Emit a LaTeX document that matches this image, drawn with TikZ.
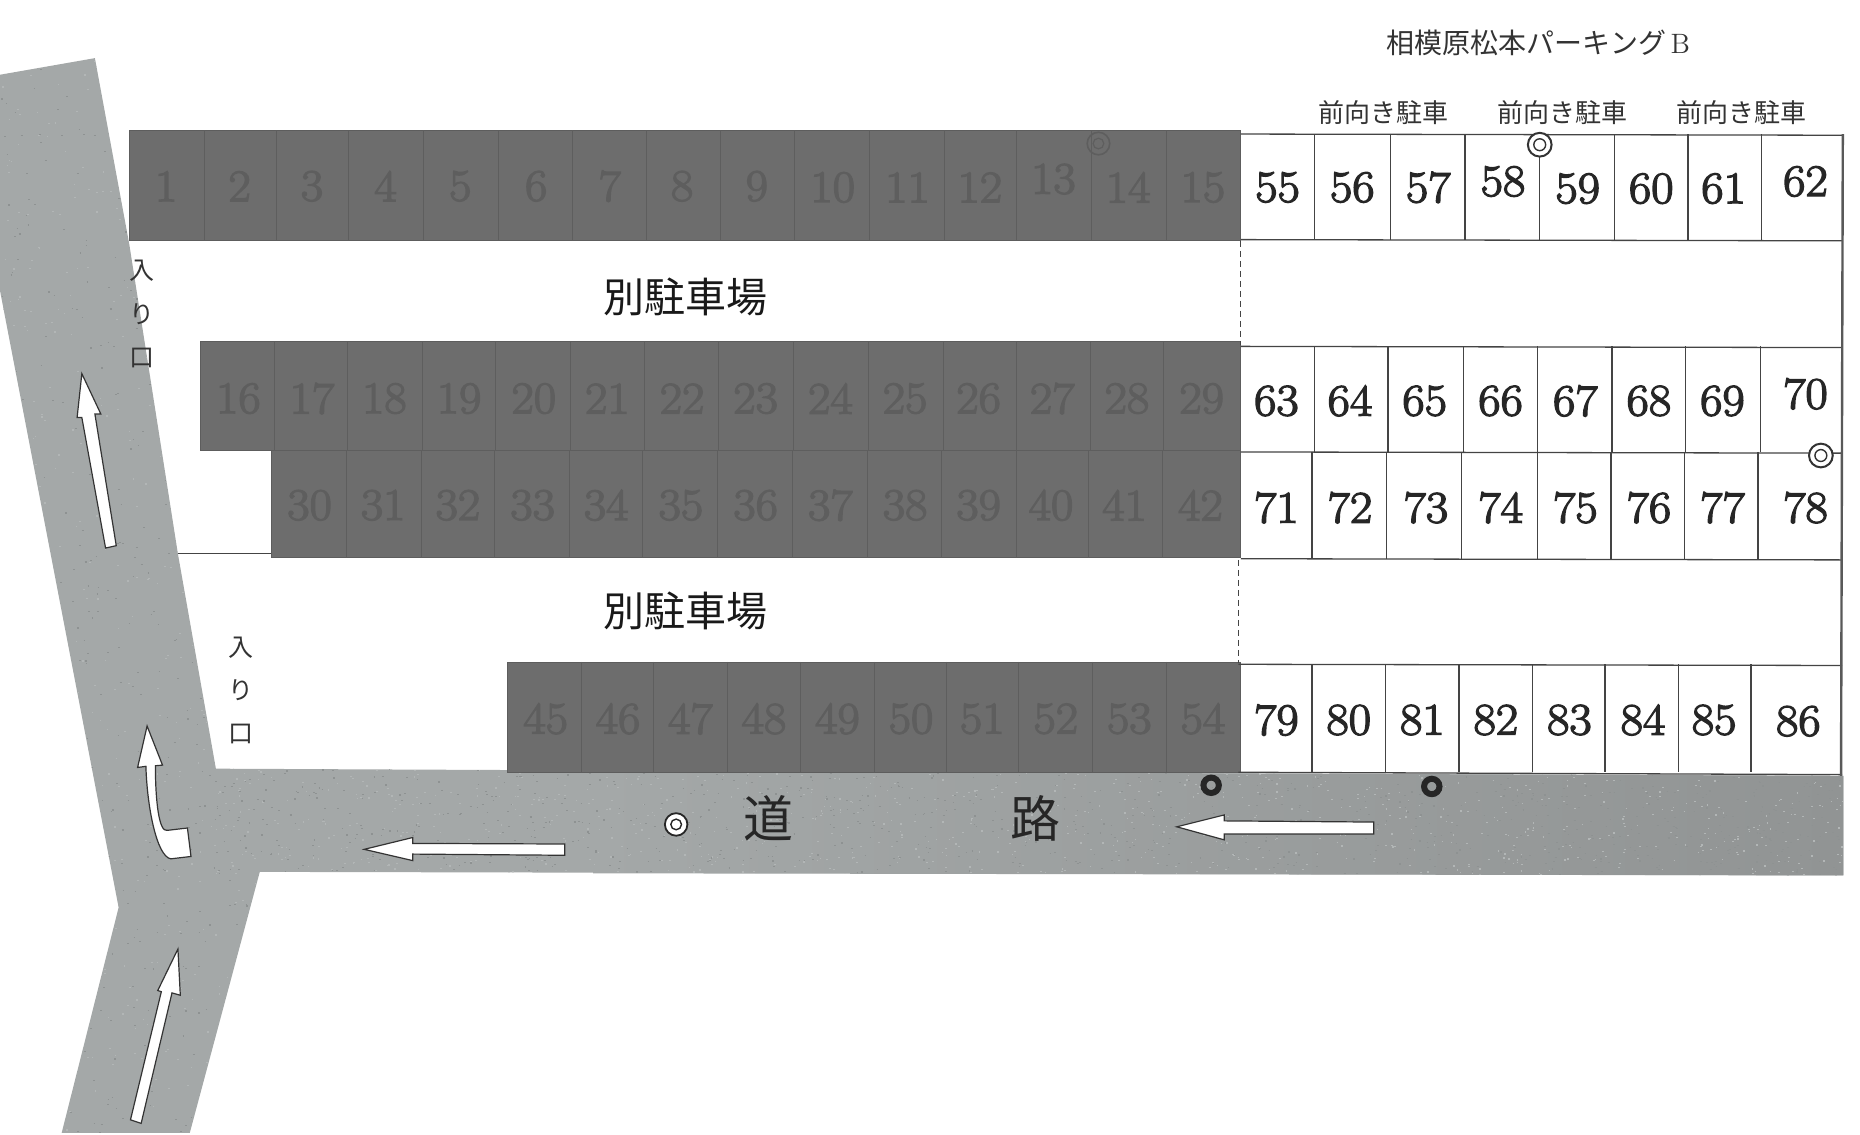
\documentclass[tikz,border=0pt]{standalone}
\usepackage{fontspec}
\newfontfamily\cjk{Noto Sans CJK JP}
\newfontfamily\numfont{Latin Modern Roman}[RawFeature={embolden=3;extend=1.08}]
\definecolor{roadc}{HTML}{A4A8A8}
\definecolor{roadd}{HTML}{919494}
\definecolor{speckd}{HTML}{8E9292}
\definecolor{speckl}{HTML}{B2B6B6}
\definecolor{darkc}{HTML}{6D6D6D}
\definecolor{darkn}{HTML}{5E5E5E}
\definecolor{linec}{HTML}{444444}
\tikzset{
  road/.style={fill=roadc,draw=none},
  darkrow/.style={fill=darkc,draw=darkc!85!black,line width=0.4pt},
  darkline/.style={draw=darkn,line width=0.5pt},
  cellline/.style={draw=linec,line width=0.65pt},
  num/.style={font=\numfont\fontsize{22.5}{22.5}\selectfont,text=black!85,inner sep=0pt},
  dnum/.style={font=\numfont\fontsize{22.5}{22.5}\selectfont,text=darkn,inner sep=0pt},
  flow/.style={fill=white,draw=black!80,line width=0.6pt,line join=miter},
  mincho/.style={font=\cjk\fontsize{13}{13}\selectfont,text=black!80,inner sep=0pt},
  big/.style={font=\cjk\fontsize{20.5}{21}\selectfont,text=black!90,inner sep=0pt},
  iri/.style={font=\cjk\fontsize{12.5}{13}\selectfont,text=black!80,inner sep=0pt},
  kanjiroad/.style={font=\cjk\fontsize{25}{25}\selectfont,text=black!85,inner sep=0pt},
}
\begin{document}
\begin{tikzpicture}[x=0.5932pt,y=-0.5932pt]
\useasboundingbox (0,0) rectangle (1568,956);
% road
\path[road] (0,63) -- (80,49) -- (109,206) -- (150,467) -- (182,648) -- (1046,652) -- (1554,654) -- (1554,738) -- (219,735) -- (160,955) -- (52,955) -- (100,765) -- (0,245) -- cycle;
\path[left color=roadc,right color=roadd,draw=none] (500,649.5) -- (1046,652) -- (1554,654) -- (1554,738) -- (500,736.2) -- cycle;
% road texture
\begin{scope}[line width=0.6pt]
\clip (0,63) -- (80,49) -- (109,206) -- (150,467) -- (182,648) -- (1046,652) -- (1554,654) -- (1554,738) -- (219,735) -- (160,955) -- (52,955) -- (100,765) -- (0,245) -- cycle;
\pgfmathsetseed{4711}
\foreach \i in {1,...,500} {
  \pgfmathsetmacro{\px}{rnd*222}
  \pgfmathsetmacro{\py}{49+rnd*906}
  \draw[speckd] (\px,\py) -- ++(1.4,0);
  \pgfmathsetmacro{\qx}{rnd*222}
  \pgfmathsetmacro{\qy}{49+rnd*906}
  \draw[speckl] (\qx,\qy) -- ++(1.4,0);
}
\foreach \i in {1,...,900} {
  \pgfmathsetmacro{\px}{180+rnd*1375}
  \pgfmathsetmacro{\py}{648+rnd*91}
  \draw[speckd] (\px,\py) -- ++(1.4,0);
  \pgfmathsetmacro{\qx}{180+rnd*1375}
  \pgfmathsetmacro{\qy}{648+rnd*91}
  \draw[speckl] (\qx,\qy) -- ++(1.4,0);
}
\end{scope}
\draw[linec,line width=0.5pt] (150,467) -- (229,467);
% dark rows
\path[darkrow] (109,110) rectangle (1046,203);
\foreach \x in {172,233,294,357,420,483,545,607,670,733,796,857,920,983} \draw[darkline] (\x,110) -- (\x,202);
\path[darkrow] (169,288) rectangle (1046,380);
\foreach \x in {231,293,356,418,481,543,606,669,732,795,857,919,981} \draw[darkline] (\x,288) -- (\x,380);
\path[darkrow] (229,380) rectangle (1046,470);
\foreach \x in {292,355,417,480,542,605,668,731,794,857,918,980} \draw[darkline] (\x,380) -- (\x,470);
\draw[darkline] (231,380) -- (1046,380);
\path[darkrow] (428,558) rectangle (1046,651);
\foreach \x in {490,551,613,675,737,798,859,921,983} \draw[darkline] (\x,558) -- (\x,651);
% white rows
\draw[cellline] (1046,113) -- (1554,114);
\draw[cellline] (1046,202) -- (1553,203);
\draw[cellline] (1046,292) -- (1553,293);
\draw[cellline] (1046,381) -- (1553,382);
\draw[cellline] (1046,471) -- (1553,472);
\draw[cellline] (1044,560) -- (1553,561);
\draw[cellline] (1044,651) -- (1553,653);
\foreach \x in {1108,1172,1235,1298,1361,1423,1485} \draw[cellline] (\x,113) -- (\x,202);
\foreach \x in {1108,1170,1234,1296,1359,1421,1484} \draw[cellline] (\x,292) -- (\x,381);
\foreach \x in {1106,1169,1232,1296,1358,1420,1482} \draw[cellline] (\x,381) -- (\x,471);
\foreach \x in {1106,1168,1230,1292,1353,1415,1476} \draw[cellline] (\x,560) -- (\x,651);
\draw[linec,line width=0.5pt,densely dashed] (1046,203) -- (1046,291);
\draw[linec,line width=0.5pt,densely dashed] (1044,472) -- (1044,559);
\draw[draw=black!65,line width=1.2pt] (1553.5,113) -- (1552,654);
% dark numbers
\foreach \n/\x/\y in {1/140/157,2/202/157,3/263/157,4/325/157,5/388/157,6/452/157,7/514/157,8/575/157,9/638/157,10/702/158,11/765/158,12/826/158,13/888/151,14/951/158,15/1014/158,
16/201/336,17/263/336,18/324/336,19/387/336,20/450/336,21/512/336,22/575/336,23/637/336,24/700/336,25/763/336,26/825/336,27/887/336,28/950/336,29/1013/336,
30/261/426,31/323/426,32/386/426,33/449/426,34/511/426,35/574/426,36/637/426,37/700/426,38/763/426,39/825/426,40/886/426,41/948/426,42/1012/426,
45/460/606,46/521/606,47/582/606,48/644/606,49/706/606,50/768/606,51/828/606,52/890/606,53/952/606,54/1014/606}
  \node[dnum] (n\n) at (\x,\y) {\n};
% white numbers
\foreach \n/\x/\y in {55/1077/158,56/1140/158,57/1204/158,58/1267/153,59/1330/159,60/1392/159,61/1453/159,62/1522/153,
63/1076/338,64/1138/338,65/1201/338,66/1265/338,67/1328/338,68/1390/338,69/1452/338,70/1522/332,
71/1076/428,72/1138/428,73/1202/428,74/1265/428,75/1328/428,76/1390/428,77/1452/428,78/1522/428,
79/1076/607,80/1137/607,81/1199/607,82/1261/607,83/1323/607,84/1385/607,85/1445/607,86/1516/608}
  \node[num] (n\n) at (\x,\y) {\n};
% text
\node[font=\cjk\fontsize{14}{14}\selectfont,text=black!80,inner sep=0pt] (title) at (1297,36) {相模原松本パーキング\,{\rmfamily B}};
\node[mincho] (f1) at (1166,95) {前向き駐車};
\node[mincho] (f2) at (1317,95) {前向き駐車};
\node[mincho] (f3) at (1468,95) {前向き駐車};
\node[big] (b1) at (578,250) {別駐車場};
\node[big] (b2) at (578,515) {別駐車場};
\node[iri] (i1) at (120,228) {入};
\node[iri] (i2) at (120,265) {り};
\node[iri] (i3) at (120,302) {口};
\node[iri] (j1) at (203,546) {入};
\node[iri] (j2) at (203,582) {り};
\node[iri] (j3) at (203,619) {口};
\node[kanjiroad] (r1) at (648,690) {道};
\node[kanjiroad] (r2) at (873,690) {路};
% arrows
\draw[flow] (69,315) -- (85,349) -- (80,349) -- (98,460) -- (89,462) -- (69,352) -- (65,352) -- cycle;
\draw[flow] (124,612) -- (137,645) -- (131,645.5) .. controls (131,675) and (134,702) .. (141,700) -- (158,698) -- (161,722) -- (144,724) .. controls (132,722) and (124,680) .. (123,646) -- (116,647) -- cycle;
\draw[flow] (307,716) -- (348,706) -- (348,711) -- (476,711.5) -- (476,721) -- (348,720) -- (348,725.5) -- cycle;
\draw[flow] (992,697) -- (1032,687) -- (1032,692) -- (1158,693) -- (1158,703) -- (1032,703) -- (1032,708) -- cycle;
\draw[flow] (150,800) -- (152,839) -- (145,837) -- (119,947) -- (110,944) -- (136,836) -- (133,835) -- cycle;
% markers
\draw[black!80,line width=1pt,fill=white] (1298,122) circle (10);
\draw[black!80,line width=0.7pt] (1298,122) circle (5);
\draw[black!80,line width=1pt,fill=white] (1535,384) circle (10);
\draw[black!80,line width=0.7pt] (1535,384) circle (5);
\draw[black!85,line width=0.9pt,fill=white] (570,695) circle (9.5);
\draw[black!85,line width=0.7pt] (570,695) circle (4.5);
\draw[darkn,line width=0.8pt] (926,121) circle (9.5);
\draw[darkn,line width=0.6pt] (926,121) circle (4.5);
\draw[black!85,line width=3pt] (1021,662) circle (6.5);
\draw[black!85,line width=3pt] (1207,663) circle (6.5);
\end{tikzpicture}
\end{document}
